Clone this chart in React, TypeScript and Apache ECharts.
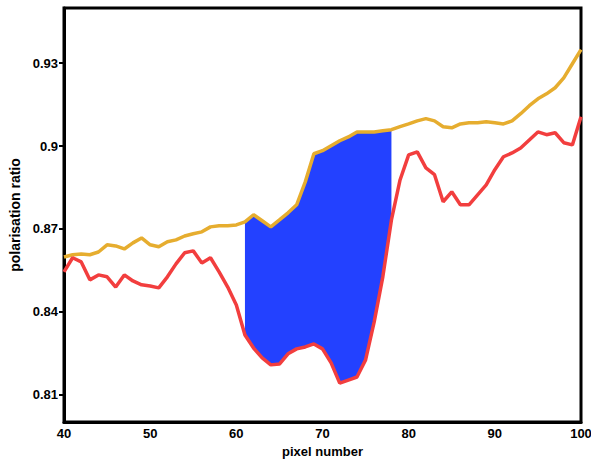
import React, { useEffect, useRef } from "react";
import * as echarts from "echarts";

// pixel numbers 40..100
const pixels: number[] = [
  40, 41, 42, 43, 44, 45, 46, 47, 48, 49,
  50, 51, 52, 53, 54, 55, 56, 57, 58, 59,
  60, 61, 62, 63, 64, 65, 66, 67, 68, 69,
  70, 71, 72, 73, 74, 75, 76, 77, 78, 79,
  80, 81, 82, 83, 84, 85, 86, 87, 88, 89,
  90, 91, 92, 93, 94, 95, 96, 97, 98, 99, 100,
];

// upper (orange) curve
const upperRatio: number[] = [
  0.8598, 0.8606, 0.8609, 0.8606, 0.8616, 0.8642, 0.8638, 0.8627, 0.8649, 0.8667,
  0.8642, 0.8635, 0.8653, 0.866, 0.8674, 0.8682, 0.8689, 0.8707, 0.8711, 0.8711,
  0.8714, 0.8725, 0.8751, 0.8729, 0.8707, 0.8732, 0.8758, 0.8787, 0.887, 0.8972,
  0.8983, 0.9001, 0.9019, 0.9033, 0.9051, 0.9051, 0.9051, 0.9055, 0.9059, 0.907,
  0.908, 0.9091, 0.9099, 0.9091, 0.907, 0.9066, 0.908, 0.9084, 0.9084, 0.9088,
  0.9084, 0.908, 0.9091, 0.9117, 0.9146, 0.9171, 0.9189, 0.9211, 0.9247, 0.9298, 0.9349,
];

// lower (red) curve
const lowerRatio: number[] = [
  0.8544, 0.8595, 0.858, 0.8515, 0.8533, 0.8526, 0.8489, 0.8533, 0.8511, 0.8497,
  0.8493, 0.8486, 0.8526, 0.8573, 0.8613, 0.862, 0.8576, 0.8595, 0.8544, 0.8489,
  0.8424, 0.8315, 0.8268, 0.8232, 0.8207, 0.821, 0.8247, 0.8265, 0.8272, 0.8283,
  0.8265, 0.8214, 0.8141, 0.8152, 0.8163, 0.8225, 0.8363, 0.8526, 0.8732, 0.8877,
  0.8968, 0.8979, 0.8921, 0.8896, 0.8798, 0.8834, 0.8787, 0.8787, 0.8823, 0.8859,
  0.8914, 0.8961, 0.8975, 0.8993, 0.9022, 0.9051, 0.9041, 0.9048, 0.9012, 0.9004, 0.9106,
];

// shaded band between the curves
const bandStart = 61;
const bandEnd = 78;

const yTicks: number[] = [0.81, 0.84, 0.87, 0.9, 0.93];
const yTickLabels: string[] = ["0.81", "0.84", "0.87", "0.9", "0.93"];

const FONT = "'Liberation Sans', Arial, sans-serif";

export default function App() {
  const ref = useRef<HTMLDivElement>(null);

  useEffect(() => {
    if (!ref.current) return;
    const chart = echarts.init(ref.current, undefined, { renderer: "svg" });

    const upperData = pixels.map((p, i) => [p, upperRatio[i]]);
    const lowerData = pixels.map((p, i) => [p, lowerRatio[i]]);
    const bandIdx = pixels
      .map((p, i) => (p >= bandStart && p <= bandEnd ? i : -1))
      .filter((i) => i >= 0);
    const bandData = bandIdx.map((i) => [pixels[i], lowerRatio[i], upperRatio[i]]);

    chart.setOption({
      animation: false,
      backgroundColor: "#fff",
      grid: {
        left: 64,
        right: 10,
        top: 8,
        bottom: 37,
        show: true,
        borderColor: "#000",
        borderWidth: 3,
        backgroundColor: "transparent",
        outerBoundsMode: "none",
        containLabel: false,
      },
      xAxis: {
        type: "value",
        min: 40,
        max: 100,
        interval: 10,
        name: "pixel number",
        nameLocation: "middle",
        nameGap: 13,
        nameTextStyle: {
          fontFamily: FONT,
          fontWeight: "bold",
          fontSize: 13,
          color: "#000",
        },
        axisLine: { show: true, lineStyle: { color: "#000", width: 3 } },
        axisTick: { show: false },
        splitLine: { show: false },
        axisLabel: {
          showMinLabel: true,
          showMaxLabel: true,
          hideOverlap: false,
          margin: 5,
          fontFamily: FONT,
          fontWeight: "bold",
          fontSize: 13,
          color: "#000",
        },
      },
      yAxis: {
        type: "value",
        min: 0.8,
        max: 0.95,
        name: "polarisation ratio",
        nameLocation: "middle",
        nameGap: 40,
        nameTextStyle: {
          fontFamily: FONT,
          fontWeight: "bold",
          fontSize: 14,
          color: "#000",
        },
        axisLine: { show: true, lineStyle: { color: "#000", width: 3 } },
        axisTick: {
          show: true,
          length: 5,
          customValues: yTicks,
          lineStyle: { color: "#000", width: 2 },
        },
        splitLine: { show: false },
        axisLabel: {
          customValues: yTicks,
          margin: 6,
          fontFamily: FONT,
          fontWeight: "bold",
          fontSize: 13,
          color: "#000",
          formatter: (v: number) => {
            const k = yTicks.findIndex((t) => Math.abs(t - v) < 1e-6);
            return k >= 0 ? yTickLabels[k] : "";
          },
        },
      },
      series: [
        {
          type: "custom",
          name: "band",
          coordinateSystem: "cartesian2d",
          data: bandData,
          encode: { x: 0, y: [1, 2] },
          silent: true,
          z: 1,
          renderItem: (params: any, api: any) => {
            if (params.dataIndex !== 0) return null;
            const top = bandData.map((d) => api.coord([d[0], d[2]]));
            const bottom = bandData
              .slice()
              .reverse()
              .map((d) => api.coord([d[0], d[1]]));
            return {
              type: "polygon",
              shape: { points: top.concat(bottom) },
              style: { fill: "#2341FF", stroke: "none" },
            };
          },
        },
        {
          type: "line",
          name: "upper",
          data: upperData,
          symbol: "none",
          lineStyle: { color: "#E6AD2F", width: 3.5 },
          z: 3,
        },
        {
          type: "line",
          name: "lower",
          data: lowerData,
          symbol: "none",
          lineStyle: { color: "#F23E3E", width: 3.5 },
          z: 3,
        },
      ],
    });

    return () => chart.dispose();
  }, []);

  return (
    <div
      ref={ref}
      style={{ position: "absolute", left: 0, top: 0, width: 591, height: 459 }}
    />
  );
}
